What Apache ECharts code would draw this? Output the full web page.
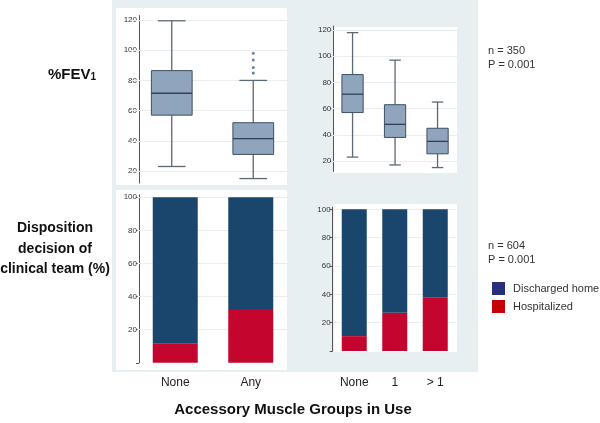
<!DOCTYPE html>
<html>
<head>
<meta charset="utf-8">
<script src="https://cdn.jsdelivr.net/npm/echarts@6/dist/echarts.min.js"></script>
<style>html,body{margin:0;padding:0;background:#fff}#c{width:600px;height:423px}</style>
</head>
<body>
<div id="c"></div>
<script>
// ---- data ----
const catsAny = ['None', 'Any'];
const catsGroups = ['None', '1', '> 1'];
// box stats: [lower whisker, Q1, median, Q3, upper whisker]
const fevBoxAny = [[23, 57, 71.5, 86.5, 119.5], [15, 31, 41.5, 52, 80]];
const fevOutliersAny = [85, 88.5, 93.5, 98];
const fevBoxGroups = [[23, 57, 71, 86, 118], [17, 38, 48, 63, 97], [15, 25.5, 35, 45, 65]];
const hospAny = [11.5, 32.5];
const dischAny = [88.5, 67.5];
const hospGroups = [10.5, 27, 38];
const dischGroups = [89.5, 73, 62];
const fevTicks = [20, 40, 60, 80, 100, 120];
const dispTicks = [20, 40, 60, 80, 100];
const dispTickMarks = [0, 20, 40, 60, 80, 100];

const FONT = "'Liberation Sans', Arial, sans-serif";
const NAVY = '#1a466e', RED = '#c4062f';
const BOXFILL = '#8ea5bd', BOXLINE = '#3e5064', WHISK = '#5d6873';

function boxData(stats) { return stats.map((s, i) => [i].concat(s)); }
function boxRender(boxFrac, capFrac) {
  return function (params, api) {
    const c = api.value(0);
    const lo = api.coord([c, api.value(1)]);
    const q1 = api.coord([c, api.value(2)]);
    const md = api.coord([c, api.value(3)]);
    const q3 = api.coord([c, api.value(4)]);
    const hi = api.coord([c, api.value(5)]);
    const band = api.size([1, 0])[0];
    const bw = band * boxFrac, cw = band * capFrac, x = lo[0];
    const ls = { stroke: WHISK, lineWidth: 1.3 };
    return { type: 'group', children: [
      { type: 'line', shape: { x1: x, y1: hi[1], x2: x, y2: q3[1] }, style: ls },
      { type: 'line', shape: { x1: x, y1: q1[1], x2: x, y2: lo[1] }, style: ls },
      { type: 'line', shape: { x1: x - cw / 2, y1: hi[1], x2: x + cw / 2, y2: hi[1] }, style: ls },
      { type: 'line', shape: { x1: x - cw / 2, y1: lo[1], x2: x + cw / 2, y2: lo[1] }, style: ls },
      { type: 'rect', shape: { x: x - bw / 2, y: q3[1], width: bw, height: q1[1] - q3[1] }, style: { fill: BOXFILL, stroke: BOXLINE, lineWidth: 1 } },
      { type: 'line', shape: { x1: x - bw / 2, y1: md[1], x2: x + bw / 2, y2: md[1] }, style: { stroke: '#2f4154', lineWidth: 1.3 } }
    ]};
  };
}
function gridMark(ticks) {
  return { silent: true, symbol: 'none', label: { show: false }, animation: false, z: 1,
    lineStyle: { color: '#e8eef2', type: 'solid', width: 1 },
    data: ticks.map(v => ({ yAxis: v })) };
}
function yAx(gi, min, max, labels, ticks, offset) {
  return { type: 'value', gridIndex: gi, min: min, max: max, offset: offset,
    axisLine: { show: true, lineStyle: { color: '#555', width: 1 } },
    axisTick: { show: true, length: 3, customValues: ticks, lineStyle: { color: '#555' } },
    axisLabel: { customValues: labels, fontSize: 8, color: '#333', margin: 2, fontFamily: FONT },
    splitLine: { show: false } };
}
function xAx(gi, cats, showLabels, margin) {
  return { type: 'category', gridIndex: gi, data: cats,
    axisLine: { show: false }, axisTick: { show: false },
    axisLabel: { show: showLabels, fontSize: 12, color: '#222', margin: margin, fontFamily: FONT } };
}

const chart = echarts.init(document.getElementById('c'), null, { renderer: 'canvas' });
chart.setOption({
  animation: false,
  backgroundColor: '#fff',
  textStyle: { fontFamily: FONT },
  grid: [
    { left: 131, top: 15.5, width: 163, height: 167.6 },
    { left: 331.3, top: 26.1, width: 127.5, height: 145.4 },
    { left: 137.5, top: 194.8, width: 151, height: 168 },
    { left: 334, top: 207.2, width: 121.5, height: 143.8 }
  ],
  xAxis: [ xAx(0, catsAny, false, 0), xAx(1, catsGroups, false, 0),
           xAx(2, catsAny, true, 14), xAx(3, catsGroups, true, 26) ],
  yAxis: [ yAx(0, 12, 123, fevTicks, fevTicks, -8),
           yAx(1, 12, 123, fevTicks, fevTicks, -2),
           yAx(2, 0, 101.5, dispTicks, dispTickMarks, -1.5),
           yAx(3, 0, 101.5, dispTicks, dispTickMarks, 1.3) ],
  legend: {
    orient: 'vertical', left: 487, top: 277, itemWidth: 13, itemHeight: 13, itemGap: 5, icon: 'rect',
    textStyle: { fontSize: 11, color: '#333', fontFamily: FONT, padding: [0, 0, 0, 3] },
    data: [ { name: 'Discharged home', itemStyle: { color: '#2a2f7c' } },
            { name: 'Hospitalized', itemStyle: { color: '#c40008' } } ]
  },
  graphic: [
    { type: 'rect', z: -10, shape: { x: 112, y: 0, width: 366, height: 372 }, style: { fill: '#e8eff2' } },
    { type: 'rect', z: -9, shape: { x: 116, y: 8, width: 171, height: 177 }, style: { fill: '#fff' } },
    { type: 'rect', z: -9, shape: { x: 333, y: 27, width: 124, height: 146 }, style: { fill: '#fff' } },
    { type: 'rect', z: -9, shape: { x: 116, y: 190, width: 171, height: 180 }, style: { fill: '#fff' } },
    { type: 'rect', z: -9, shape: { x: 334, y: 204, width: 123, height: 148 }, style: { fill: '#fff' } },
    { type: 'text', left: 48, top: 67, style: { text: '{a|%FEV}{b|1}', rich: {
        a: { fontSize: 15, fontWeight: 'bold', fill: '#111', fontFamily: FONT, verticalAlign: 'bottom' },
        b: { fontSize: 10, fontWeight: 'bold', fill: '#111', fontFamily: FONT, padding: [6, 0, 0, 0] } } } },
    { type: 'text', x: 55, y: 249, style: { text: 'Disposition\ndecision of\nclinical team (%)', align: 'center', verticalAlign: 'middle',
        font: "bold 14px 'Liberation Sans', Arial, sans-serif", lineHeight: 20.5, fill: '#111' } },
    { type: 'text', x: 488, y: 44, style: { text: 'n = 350\nP = 0.001', font: "11px 'Liberation Sans', Arial, sans-serif", lineHeight: 14, fill: '#333' } },
    { type: 'text', x: 488, y: 239, style: { text: 'n = 604\nP = 0.001', font: "11px 'Liberation Sans', Arial, sans-serif", lineHeight: 14, fill: '#333' } },
    { type: 'text', x: 293, y: 410, style: { text: 'Accessory Muscle Groups in Use', align: 'center', verticalAlign: 'middle',
        font: "bold 15px 'Liberation Sans', Arial, sans-serif", fill: '#111' } }
  ],
  series: [
    { type: 'custom', name: 'fevAny', xAxisIndex: 0, yAxisIndex: 0, renderItem: boxRender(0.5, 0.34),
      encode: { x: 0, y: [1, 2, 3, 4, 5] }, data: boxData(fevBoxAny), markLine: gridMark(fevTicks), z: 3 },
    { type: 'scatter', xAxisIndex: 0, yAxisIndex: 0, symbol: 'circle', symbolSize: 3,
      itemStyle: { color: '#3f6296' }, data: fevOutliersAny.map(v => [1, v]), z: 3 },
    { type: 'custom', name: 'fevGroups', xAxisIndex: 1, yAxisIndex: 1, renderItem: boxRender(0.5, 0.27),
      encode: { x: 0, y: [1, 2, 3, 4, 5] }, data: boxData(fevBoxGroups), markLine: gridMark(fevTicks), z: 3 },
    { type: 'bar', name: 'Hospitalized', xAxisIndex: 2, yAxisIndex: 2, stack: 'a', barWidth: 45, z: 3,
      itemStyle: { color: RED }, data: hospAny, markLine: gridMark(dispTicks) },
    { type: 'bar', name: 'Discharged home', xAxisIndex: 2, yAxisIndex: 2, stack: 'a', barWidth: 45, z: 3,
      itemStyle: { color: NAVY }, data: dischAny },
    { type: 'bar', name: 'Hospitalized', xAxisIndex: 3, yAxisIndex: 3, stack: 'b', barWidth: 25, z: 3,
      itemStyle: { color: RED }, data: hospGroups, markLine: gridMark(dispTicks) },
    { type: 'bar', name: 'Discharged home', xAxisIndex: 3, yAxisIndex: 3, stack: 'b', barWidth: 25, z: 3,
      itemStyle: { color: NAVY }, data: dischGroups }
  ]
});
</script>
</body>
</html>
